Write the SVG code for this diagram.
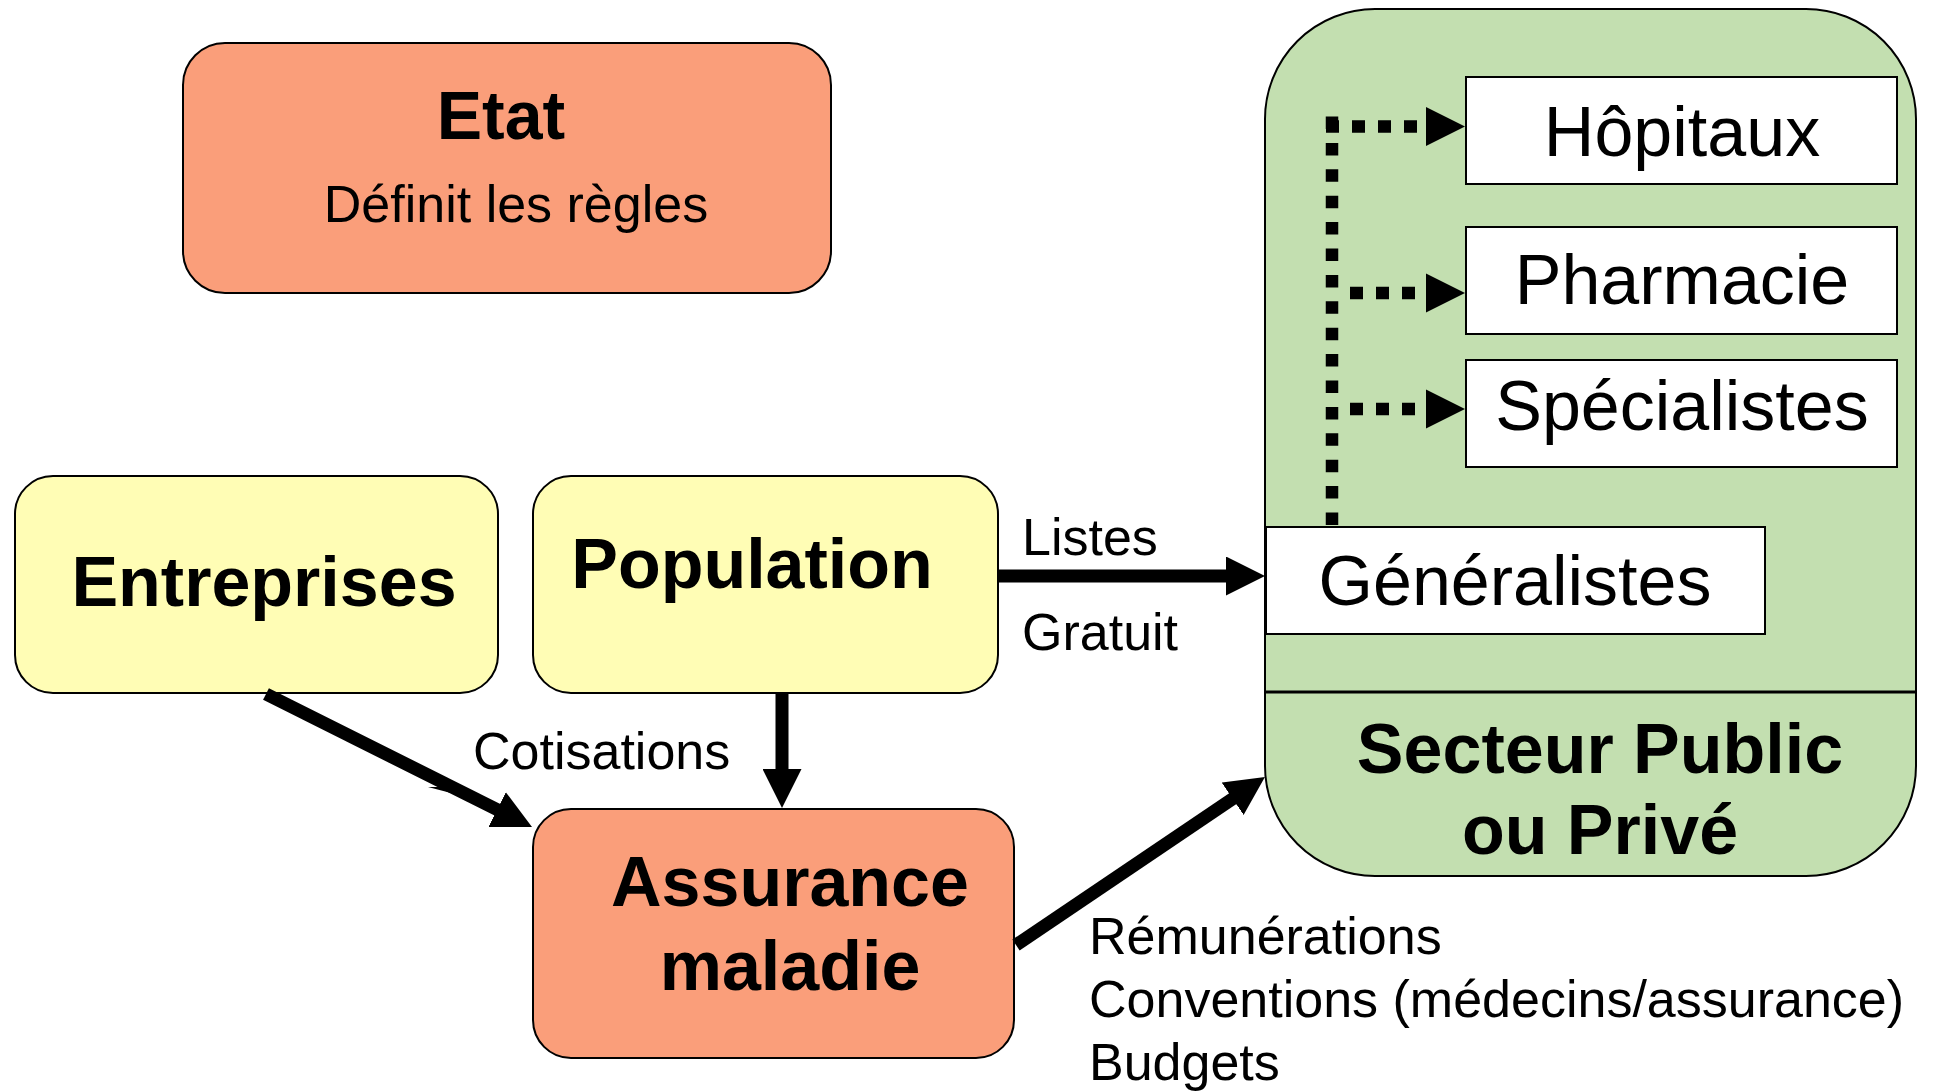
<svg xmlns="http://www.w3.org/2000/svg" width="1934" height="1091" viewBox="0 0 1934 1091">
  <defs>
    <marker id="ah" markerUnits="userSpaceOnUse" markerWidth="39" markerHeight="39" refX="2" refY="19.5" orient="auto">
      <path d="M0,0 L39,19.5 L0,39 Z" fill="#000"/>
    </marker>
    <style>
      .box{stroke:#000;stroke-width:2}
      .orange{fill:#FA9E7A}
      .yellow{fill:#FFFDB5}
      .green{fill:#C3DFB0}
      .white{fill:#fff}
      .t{font-family:"Liberation Sans",Arial,sans-serif;fill:#000}
      .b70{font-size:70px;font-weight:bold;text-anchor:middle}
      .r70{font-size:70px;text-anchor:middle}
      .r52{font-size:52px}
      .solid{stroke:#000;stroke-width:13;fill:none;marker-end:url(#ah)}
      .dot{stroke:#000;stroke-width:12.5;fill:none;stroke-dasharray:13 13}
      .head{fill:#000}
    </style>
  </defs>
  <rect width="1934" height="1091" fill="#fff"/>

  <g id="secteur">
    <rect class="box green" x="1265" y="9" width="651" height="867" rx="110" ry="110"/>
    <line x1="1265" y1="692" x2="1916" y2="692" stroke="#000" stroke-width="3"/>
    <text class="t b70" x="1600" y="773">Secteur Public</text>
    <text class="t b70" x="1600" y="854">ou Privé</text>
  </g>

  <g id="etat">
    <rect class="box orange" x="183" y="43" width="648" height="250" rx="42" ry="42"/>
    <text class="t" x="501" y="139" style="font-size:68px;font-weight:bold;text-anchor:middle">Etat</text>
    <text class="t" x="516" y="222" style="font-size:52px;text-anchor:middle">Définit les règles</text>
  </g>

  <g id="entreprises">
    <rect class="box yellow" x="15" y="476" width="483" height="217" rx="38" ry="38"/>
    <text class="t b70" x="264" y="606">Entreprises</text>
  </g>

  <g id="population">
    <rect class="box yellow" x="533" y="476" width="465" height="217" rx="38" ry="38"/>
    <text class="t b70" x="752" y="588">Population</text>
  </g>

  <g id="assurance">
    <rect class="box orange" x="533" y="809" width="481" height="249" rx="38" ry="38"/>
    <text class="t b70" x="790" y="906">Assurance</text>
    <text class="t b70" x="790" y="990">maladie</text>
  </g>

  <g id="hopitaux">
    <rect class="box white" x="1466" y="77" width="431" height="107"/>
    <text class="t r70" x="1682" y="156">Hôpitaux</text>
  </g>
  <g id="pharmacie">
    <rect class="box white" x="1466" y="227" width="431" height="107"/>
    <text class="t r70" x="1682" y="304">Pharmacie</text>
  </g>
  <g id="specialistes">
    <rect class="box white" x="1466" y="360" width="431" height="107"/>
    <text class="t r70" x="1682" y="430">Spécialistes</text>
  </g>
  <g id="generalistes">
    <rect class="box white" x="1266" y="527" width="499" height="107"/>
    <text class="t r70" x="1515" y="605">Généralistes</text>
  </g>

  <g id="connectors">
    <line class="solid" x1="999" y1="576" x2="1228" y2="576"/>
    <line class="solid" x1="782" y1="693" x2="782" y2="771"/>
    <line class="solid" x1="266" y1="694" x2="498.9" y2="810.5"/>
    <polygon points="428,787 452,787 451,793" fill="#000"/>
    <line class="solid" x1="1016" y1="945" x2="1234.3" y2="797.7"/>

    <line class="dot" x1="1332" y1="116.5" x2="1332" y2="526" style="stroke-dasharray:12.5 13.9"/>
    <line class="dot" x1="1326" y1="126.5" x2="1417" y2="126.5"/>
    <line class="dot" x1="1350" y1="293" x2="1415" y2="293"/>
    <line class="dot" x1="1350" y1="409" x2="1415" y2="409"/>
    <polygon class="head" points="1426,107 1465,126.5 1426,146"/>
    <polygon class="head" points="1426,273.5 1465,293 1426,312.5"/>
    <polygon class="head" points="1426,389.5 1465,409 1426,428.5"/>

    <text class="t r52" x="1022" y="555">Listes</text>
    <text class="t r52" x="1022" y="650">Gratuit</text>
    <text class="t r52" x="473" y="769">Cotisations</text>
    <text class="t r52" x="1089" y="954">Rémunérations</text>
    <text class="t r52" x="1089" y="1017">Conventions (médecins/assurance)</text>
    <text class="t r52" x="1089" y="1080">Budgets</text>
  </g>
</svg>
